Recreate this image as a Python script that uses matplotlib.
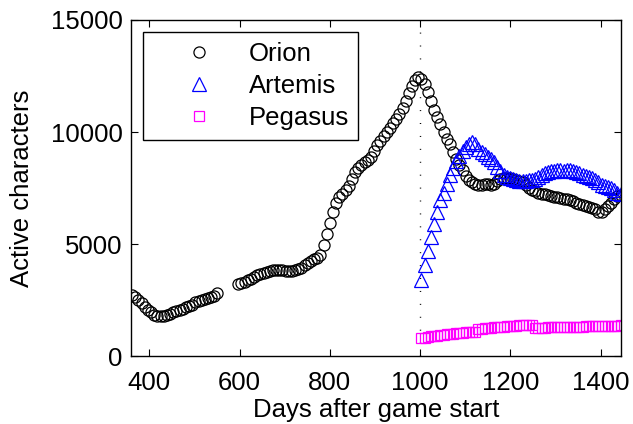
import numpy as np
import matplotlib
matplotlib.use('Agg')
import matplotlib.pyplot as plt

# weekly samples
orion_days_a = np.arange(362, 362 + 7 * 28, 7)
orion_vals_a = [2750, 2650, 2500, 2350, 2200, 2050, 1950, 1850, 1800, 1780,
                1800, 1850, 1900, 1950, 2000, 2050, 2100, 2200, 2250, 2300,
                2400, 2450, 2500, 2550, 2600, 2650, 2700, 2800]

orion_vals_b = [3200, 3250, 3300, 3380, 3450, 3520, 3600, 3650, 3700, 3750,
                3800, 3830, 3850, 3850, 3830, 3800, 3780, 3800, 3850, 3900,
                3950, 4050, 4150, 4250, 4350, 4400, 4500,
                4950, 5450, 5950, 6450, 6850, 7100, 7250, 7400, 7600, 7900,
                8200, 8400, 8550, 8650, 8750, 8900, 9150, 9400, 9600, 9800,
                10000, 10200, 10400, 10600, 10800, 11050, 11400, 11750, 12050, 12300,
                12450,
                12350, 12150, 11800, 11400, 11000, 10650, 10350, 10000, 9700, 9450,
                9100, 8800, 8550, 8300, 8050, 7850,
                7750, 7700, 7650, 7650, 7700, 7700, 7650, 7700, 7800, 7900,
                7950, 7950, 7950, 7900, 7850, 7800, 7750, 7650, 7500, 7400,
                7350, 7300, 7250, 7250, 7200, 7150, 7100, 7100, 7050, 7000,
                7000, 6950, 6900, 6850, 6800, 6750, 6700, 6650, 6600, 6550,
                6450, 6450, 6550, 6700, 6850, 7000, 7150, 7200]
orion_days_b = np.arange(597, 597 + 7 * len(orion_vals_b), 7)

artemis_vals = [3400, 4050, 4700, 5300, 5900, 6450, 6950, 7300, 7700, 8100,
                8400, 8700, 8950, 9150, 9350, 9450, 9550,
                9450, 9250, 9100, 9000, 8900, 8800, 8650, 8450, 8250, 8100,
                8000, 7950, 7900, 7850, 7800, 7800, 7800, 7850, 7850, 7900,
                8000, 8100, 8150, 8200, 8250, 8250, 8300, 8300, 8250, 8300,
                8300, 8250, 8200, 8150, 8100, 8050, 8000, 7950, 7850, 7750,
                7650, 7600, 7550, 7500, 7400, 7300, 7250]
pegasus_vals = [800, 830, 860, 880, 900, 920, 940, 960, 970, 990,
                1000, 1020, 1030, 1050, 1060, 1080, 1090, 1100,
                1200, 1220, 1240, 1250, 1270, 1280, 1300, 1310, 1320, 1330,
                1340, 1350, 1360, 1370, 1380, 1390, 1390, 1400,
                1250, 1260, 1270, 1270, 1280, 1280, 1290, 1290, 1300, 1300,
                1300, 1310, 1310, 1320, 1320, 1320, 1330, 1330, 1330, 1340,
                1340, 1340, 1350, 1350, 1350, 1360, 1360, 1370]
new_days = np.arange(1003, 1003 + 7 * len(artemis_vals), 7)

launch_day = 1000

plt.rcParams['font.family'] = ['Liberation Sans', 'DejaVu Sans']
plt.rcParams['font.size'] = 18.5

fig = plt.figure(figsize=(6.33, 4.24), dpi=100)
ax = fig.add_axes([0.207, 0.160, 0.774, 0.793])

ax.axvline(launch_day, color='k', lw=1, linestyle=(0, (0.7, 8.6)))

ax.plot(orion_days_a, orion_vals_a, 'o', mfc='none', mec='k', ms=8, mew=0.9,
        label='Orion')
ax.plot(orion_days_b, orion_vals_b, 'o', mfc='none', mec='k', ms=8, mew=0.9)
ax.plot(new_days, artemis_vals, '^', mfc='none', mec='#0000ff', ms=10, mew=0.9,
        label='Artemis')
ax.plot(new_days, pegasus_vals, 's', mfc='none', mec='#ff00ff', ms=6.5, mew=0.9,
        label='Pegasus')

ax.set_xlim(359.5, 1445)
ax.set_ylim(0, 15000)
ax.set_xticks([400, 600, 800, 1000, 1200, 1400])
ax.set_yticks([0, 5000, 10000, 15000])
ax.tick_params(direction='in', top=True, right=True, length=5, width=0.8)
ax.tick_params(axis='x', pad=11)
ax.tick_params(axis='y', pad=6)
for s in ax.spines.values():
    s.set_linewidth(1.0)

ax.set_xlabel('Days after game start', labelpad=2)
ax.set_ylabel('Active characters', labelpad=12)

leg = ax.legend(loc='upper left', bbox_to_anchor=(0.0, 1.0),
                borderaxespad=0.48, borderpad=0.37, handlelength=3.62,
                handletextpad=0.1, labelspacing=0.32, fancybox=False,
                framealpha=1, edgecolor='k')
leg.get_frame().set_linewidth(1.0)

fig.savefig('out.png', dpi=100)
